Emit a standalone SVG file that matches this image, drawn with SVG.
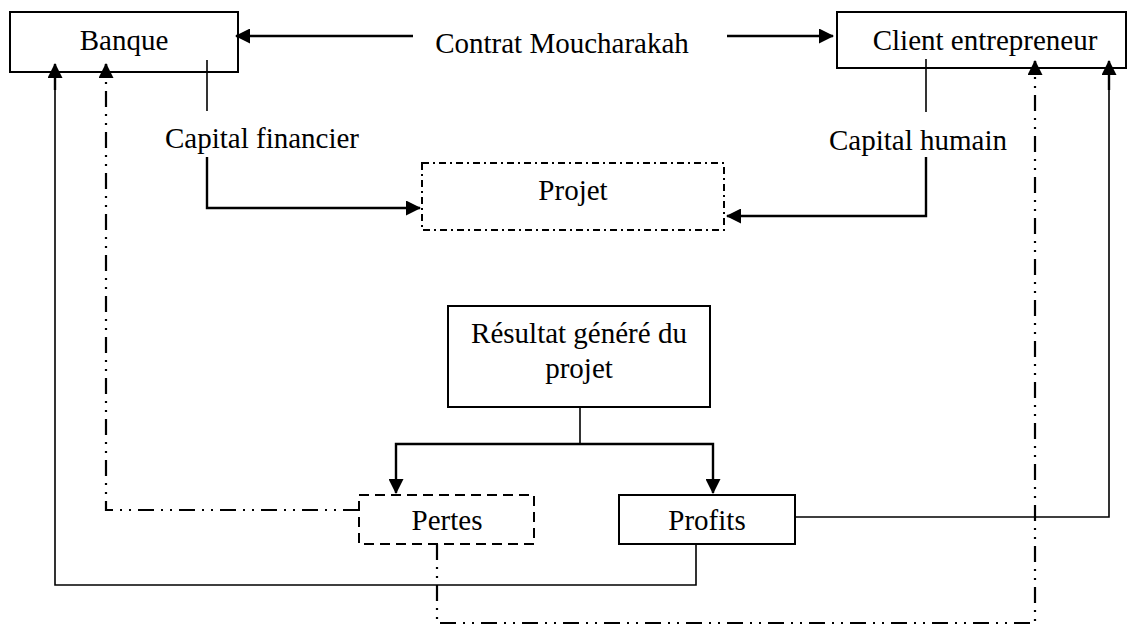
<svg xmlns="http://www.w3.org/2000/svg" width="1129" height="628" viewBox="0 0 1129 628">
<style>
  .box { fill: #fff; stroke: #000; stroke-width: 2; }
  .dashdot { fill: #fff; stroke: #000; stroke-width: 2; stroke-dasharray: 7 4 2 4; }
  .dashed { fill: #fff; stroke: #000; stroke-width: 2; stroke-dasharray: 10 6; }
  .lbl { font-family: "Liberation Serif", "Times New Roman", serif; font-size: 29px; fill: #000; text-anchor: middle; }
  .ln { fill: none; stroke: #000; stroke-width: 1.6; }
  .arr { fill: none; stroke: #000; stroke-width: 2.4; }
  .dd { fill: none; stroke: #000; stroke-width: 2.2; stroke-dasharray: 16 7 2 7 2 7; }
</style>
<defs>
  <marker id="ah" markerUnits="userSpaceOnUse" markerWidth="15" markerHeight="15" viewBox="0 0 15 15" refX="14" refY="7.5" orient="auto">
    <path d="M0,0 L15,7.5 L0,15 Z" fill="#000"/>
  </marker>
</defs>

<g id="banque">
  <rect class="box" x="10" y="12" width="228" height="60"/>
  <text class="lbl" x="124" y="50">Banque</text>
</g>
<g id="client">
  <rect class="box" x="837" y="12" width="289" height="56"/>
  <text class="lbl" x="985" y="50">Client entrepreneur</text>
</g>
<g id="contrat">
  <text class="lbl" x="562" y="53">Contrat Moucharakah</text>
</g>
<g id="capital-financier">
  <text class="lbl" x="262" y="148">Capital financier</text>
</g>
<g id="capital-humain">
  <text class="lbl" x="918" y="150">Capital humain</text>
</g>
<g id="projet">
  <rect class="dashdot" x="422" y="163" width="302" height="67"/>
  <text class="lbl" x="573" y="200">Projet</text>
</g>
<g id="resultat">
  <rect class="box" x="448" y="306" width="262" height="101"/>
  <text class="lbl" x="579" y="343">Résultat généré du</text>
  <text class="lbl" x="579" y="378">projet</text>
</g>
<g id="pertes">
  <rect class="dashed" x="359" y="495" width="175" height="49"/>
  <text class="lbl" x="447" y="530">Pertes</text>
</g>
<g id="profits">
  <rect class="box" x="619" y="495" width="176" height="49"/>
  <text class="lbl" x="707" y="530">Profits</text>
</g>

<g id="connectors">
  <path class="arr" d="M413,36 H236" marker-end="url(#ah)"/>
  <path class="arr" d="M727,36 H833" marker-end="url(#ah)"/>
  <path class="ln" d="M207,60 V111"/>
  <path class="arr" d="M207,157 V208 H420" marker-end="url(#ah)"/>
  <path class="ln" d="M926,59 V112"/>
  <path class="arr" d="M926,157 V216 H727" marker-end="url(#ah)"/>
  <path class="ln" d="M580,407 V444"/>
  <path class="arr" d="M580,444 H396 V493" marker-end="url(#ah)"/>
  <path class="arr" d="M580,444 H713 V493" marker-end="url(#ah)"/>
  <path class="dd" d="M359,510 H106 V64" />
  <path class="arr" d="M106,76 V64" marker-end="url(#ah)"/>
  <path class="ln" d="M696,544 V585 H55 V80" />
  <path class="arr" d="M55,90 V64" marker-end="url(#ah)"/>
  <path class="ln" d="M795,517 H1109 V80" />
  <path class="arr" d="M1109,90 V61" marker-end="url(#ah)"/>
  <path class="dd" d="M437,544 V623 H1035 V61" />
  <path class="arr" d="M1035,74 V61" marker-end="url(#ah)"/>
</g>
</svg>
